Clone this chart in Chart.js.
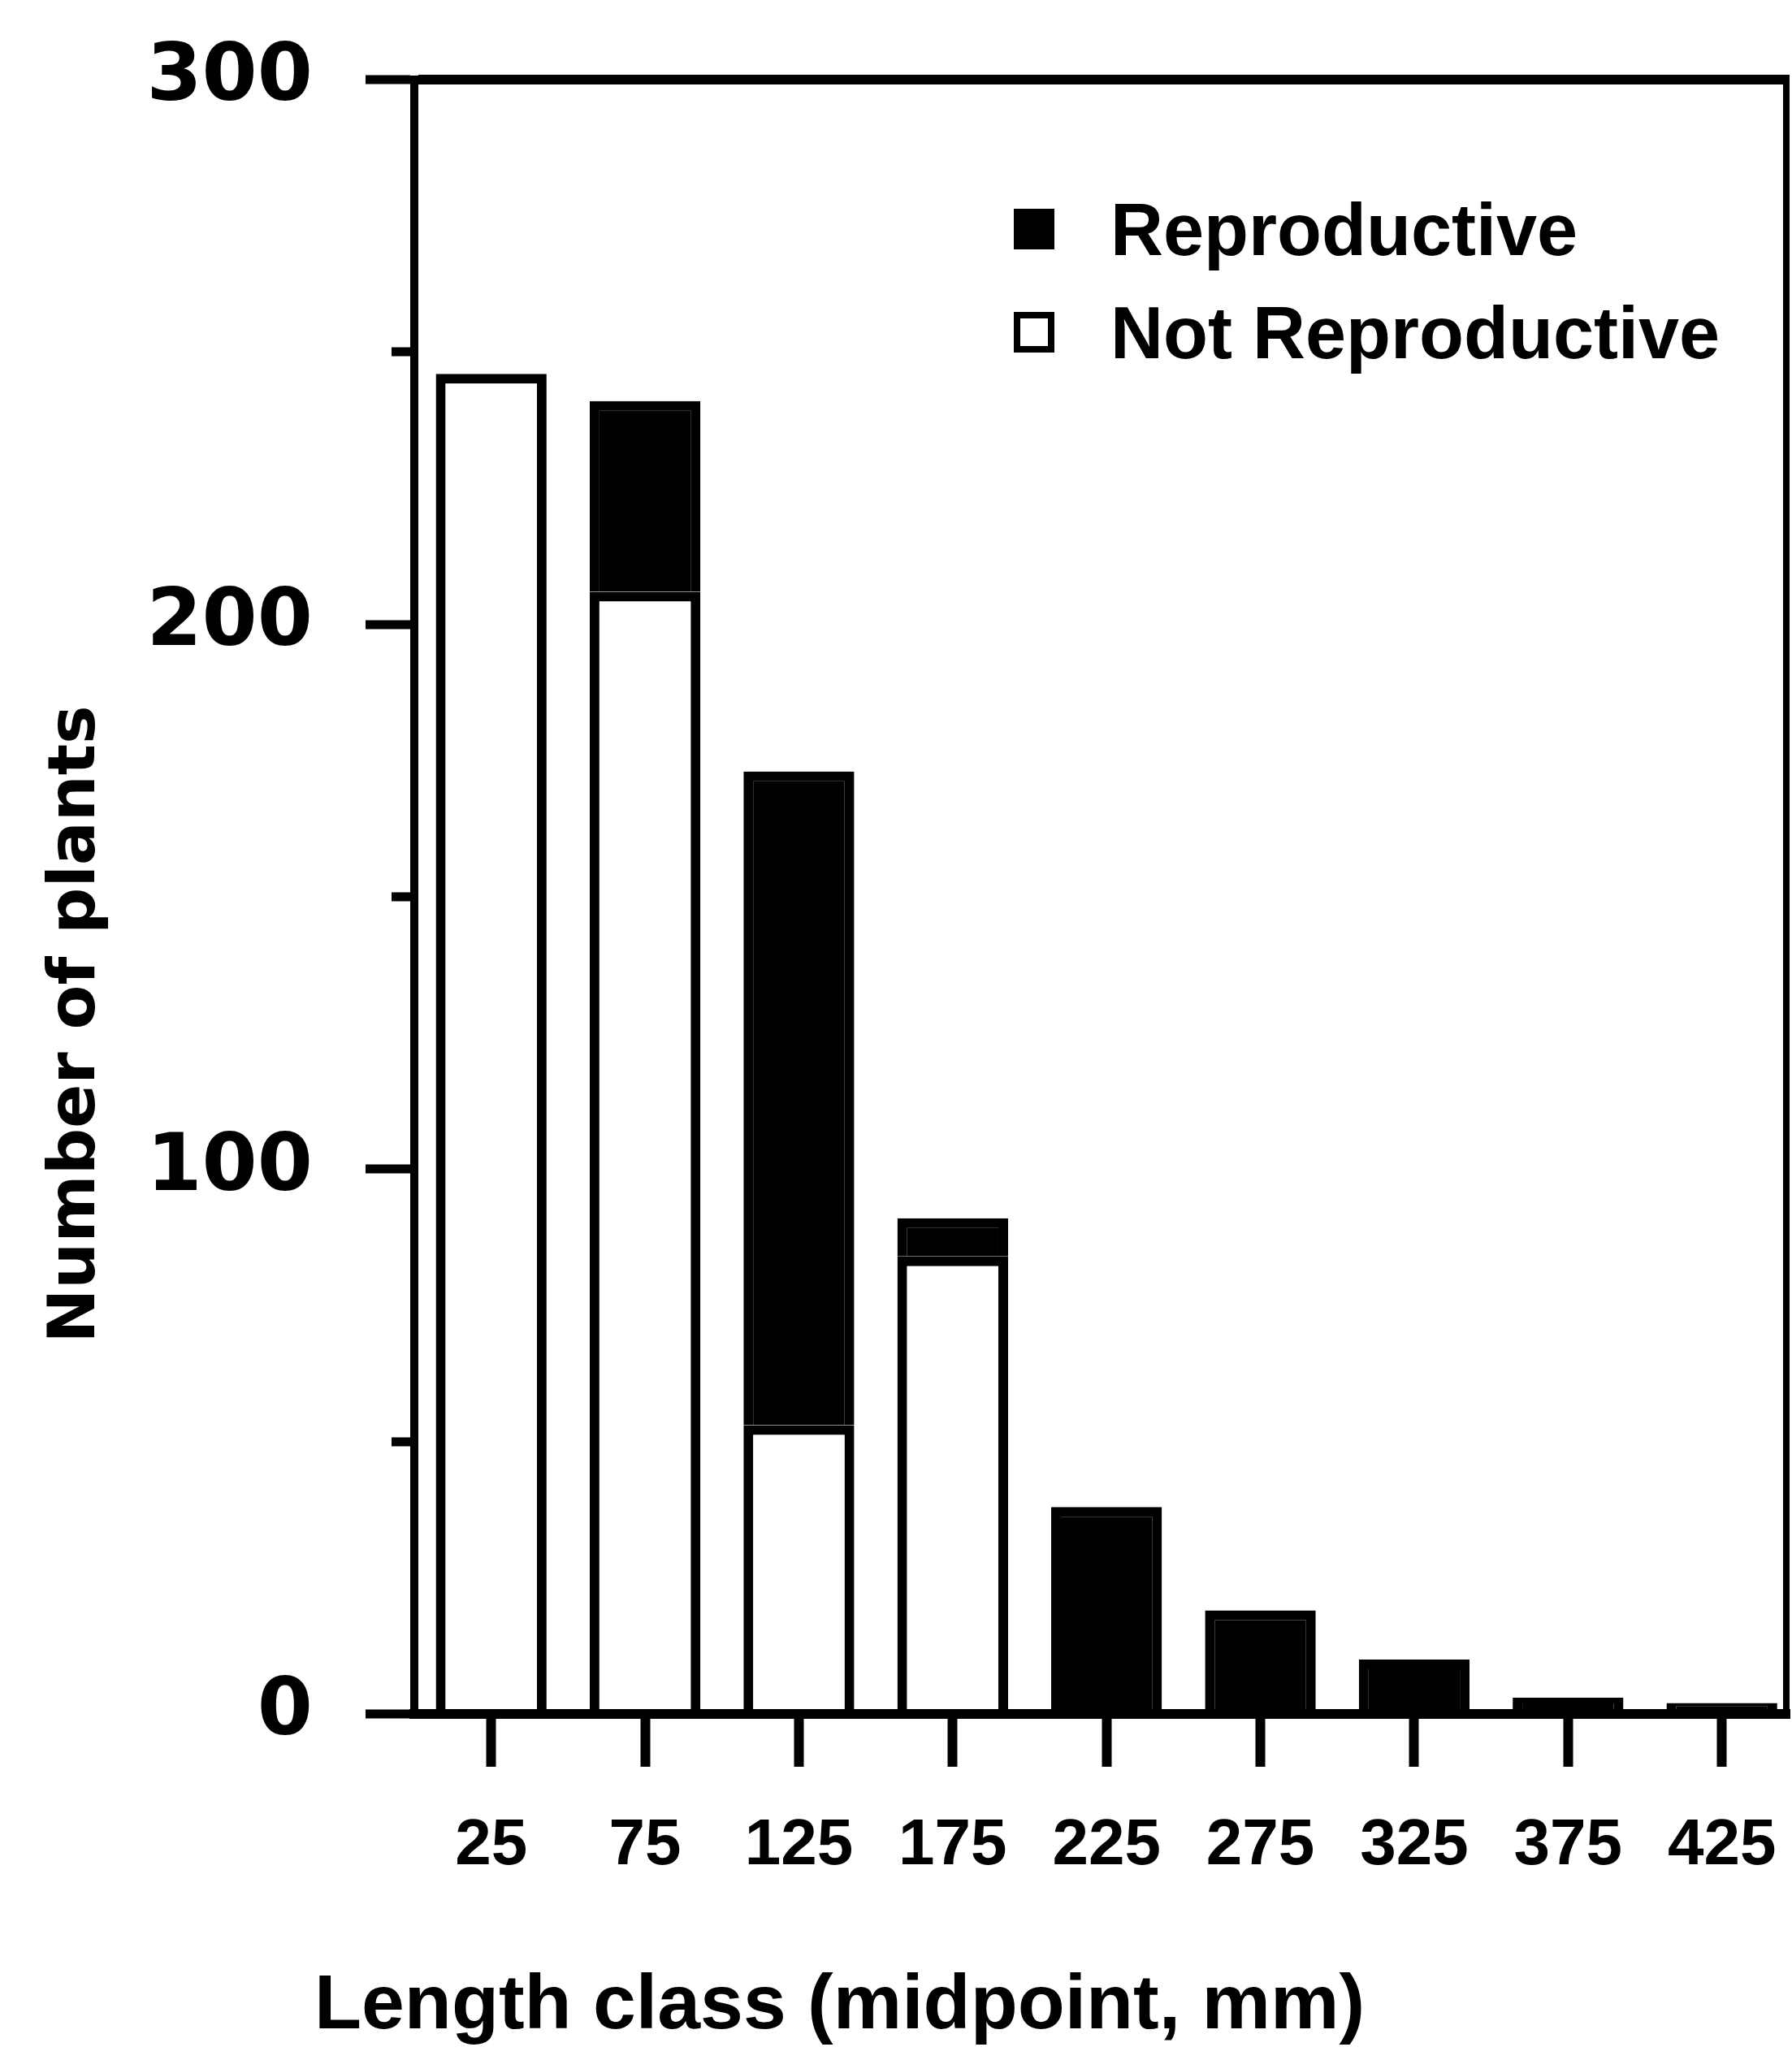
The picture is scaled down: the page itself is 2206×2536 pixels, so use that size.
<!DOCTYPE html>
<html>
<head>
<meta charset="utf-8">
<title>Length class</title>
<script src="https://cdn.jsdelivr.net/npm/chart.js@4"></script>
<style>
  html, body { margin: 0; padding: 0; background: #fff; overflow: hidden; }
  #wrap { width: 2206px; height: 2536px; }
</style>
</head>
<body>
<div id="wrap"><canvas id="lengthChart"></canvas></div>
<script>
// values (number of plants per length class)
const lengthClasses = [25, 75, 125, 175, 225, 275, 325, 375, 425];
const notReproductive = [246, 206, 53, 84, 0, 0, 0, 0, 0];
const reproductive = [0, 35, 120, 7, 38, 19, 10, 3, 2];

const yTicks = [0, 50, 100, 150, 200, 250, 300];
const yLabelled = [0, 100, 200, 300];

const xTitle = "Length class (midpoint, mm)";
const yTitle = "Number of plants";

const ink = "#000";
const sans = "'Liberation Sans', Arial, sans-serif";


// axis titles sit off-centre in the original, so draw them by hand
const axisTitles = {
    id: "axisTitles",
    afterDraw(chart) {
        const ctx = chart.ctx;
        ctx.save();
        ctx.fillStyle = ink;
        ctx.textBaseline = "alphabetic";

        ctx.font = "bold 95px " + sans;
        ctx.textAlign = "left";
        ctx.fillText(xTitle, 387, 2497);

        ctx.translate(116, 1261);
        ctx.rotate(-Math.PI / 2);
        ctx.font = "bold 80px 'DejaVu Sans', sans-serif";
        ctx.textAlign = "center";
        ctx.fillText(yTitle, 0, 0);
        ctx.restore();
    }
};


// legend inside the plot, reproductive first
const boxLegend = {
    id: "boxLegend",
    afterDraw(chart) {
        const ctx = chart.ctx;
        const rows = chart.data.datasets.slice().reverse();
        ctx.save();
        ctx.font = "bold 90px " + sans;
        ctx.textBaseline = "alphabetic";
        ctx.textAlign = "left";
        rows.forEach((ds, i) => {
            const y = 282 + i * 127;
            ctx.fillStyle = ds.backgroundColor;
            ctx.fillRect(1252, y - 21, 42, 42);
            ctx.lineWidth = 8;
            ctx.strokeStyle = ink;
            ctx.strokeRect(1252, y - 21, 42, 42);
            ctx.fillStyle = ink;
            ctx.fillText(ds.label, 1367, y + 32);
        });
        ctx.restore();
    }
};


// right side of the frame
const rightFrame = {
    id: "rightFrame",
    afterDraw(chart) {
        const a = chart.chartArea;
        const ctx = chart.ctx;
        ctx.save();
        ctx.strokeStyle = ink;
        ctx.lineWidth = 8;
        ctx.beginPath();
        ctx.moveTo(a.right - 4, a.top);
        ctx.lineTo(a.right - 4, a.bottom);
        ctx.stroke();
        ctx.restore();
    }
};


new Chart(document.getElementById("lengthChart"), {
    type: "bar",
    data: {
        labels: lengthClasses,
        datasets: [
            {
                label: "Not Reproductive",
                data: notReproductive,
                backgroundColor: "#fff",
                borderColor: ink,
                borderWidth: 12
            },
            {
                label: "Reproductive",
                data: reproductive,
                backgroundColor: ink,
                borderColor: ink,
                borderWidth: 12
            }
        ]
    },
    options: {
        responsive: true,
        maintainAspectRatio: false,
        animation: false,
        barPercentage: 0.72,
        categoryPercentage: 1,
        layout: { padding: { left: 0, top: 98, right: 3, bottom: 0 } },
        plugins: {
            legend: { display: false },
            tooltip: { enabled: false }
        },
        scales: {
            x: {
                type: "linear",
                min: 0,
                max: 447,
                offset: false,
                stacked: true,
                afterBuildTicks: s => { s.ticks = lengthClasses.map(v => ({ value: v })); },
                afterFit: s => { s.height = 426; s.paddingLeft = 0; s.paddingRight = 0; },
                ticks: {
                    color: ink,
                    padding: 50,
                    maxRotation: 0,
                    autoSkip: false,
                    font: { family: sans, size: 80, weight: "bold" }
                },
                grid: {
                    offset: false,
                    drawOnChartArea: false,
                    tickLength: 65,
                    tickWidth: 12,
                    tickColor: ink
                },
                border: { color: ink, width: 12, z: 1 }
            },
            y: {
                stacked: true,
                min: 0,
                max: 300,
                afterBuildTicks: s => { s.ticks = yTicks.map(v => ({ value: v })); },
                afterFit: s => { s.width = 510; s.paddingTop = 0; s.paddingBottom = 0; },
                ticks: {
                    color: ink,
                    padding: 65,
                    callback: v => yLabelled.includes(v) ? v : "",
                    font: { family: "'DejaVu Sans', sans-serif", size: 98, weight: "bold" }
                },
                grid: {
                    color: c => (c.tick && c.tick.value === 300) ? ink : "rgba(0,0,0,0)",
                    lineWidth: 12,
                    tickLength: 60,
                    tickWidth: 11,
                    tickColor: ink,
                    tickBorderDash: c => (c.tick && yLabelled.includes(c.tick.value)) ? [] : [0, 32, 100]
                },
                border: { color: ink, width: 10, z: 1 }
            }
        }
    },
    plugins: [axisTitles, boxLegend, rightFrame]
});
</script>
</body>
</html>
